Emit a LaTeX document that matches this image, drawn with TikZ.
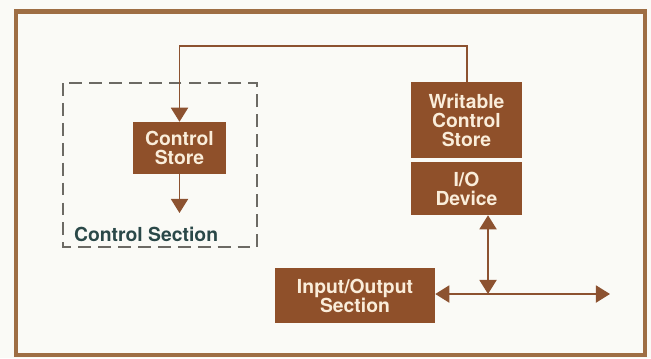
\documentclass[tikz,border=0pt]{standalone}
\usepackage{fontspec}
\setmainfont{TeX Gyre Heros}
\usetikzlibrary{arrows.meta}
\definecolor{boxbrown}{RGB}{143,80,42}
\definecolor{linebrown}{RGB}{140,82,48}
\definecolor{framebrown}{RGB}{158,110,68}
\definecolor{paper}{RGB}{250,250,246}
\definecolor{boxtext}{RGB}{250,237,218}
\definecolor{dashgray}{RGB}{108,106,100}
\definecolor{labelteal}{RGB}{42,72,72}
\begin{document}
\begin{tikzpicture}[x=0.03cm,y=-0.03cm,>={Triangle[length=12pt,width=14.5pt]},
	box/.style={fill=boxbrown,text=boxtext,font=\bfseries\fontsize{16.5}{16.2}\selectfont,align=center,inner sep=0pt},
	conn/.style={linebrown,line width=1.7pt}]
	\fill [paper] (0,0) rectangle (651,358);
	\useasboundingbox (0,0) rectangle (651,358);
	\draw [framebrown, line width=3.5pt] (16,11.5) rectangle (645,355);
	% control section
	\draw [dashgray, line width=1.4pt, dash pattern=on 11pt off 6pt] (63,83) rectangle (257,247);
	\node [anchor=west, text=labelteal, font=\bfseries\fontsize{16.5}{16.2}\selectfont] (cslabel) at (70,234) {Control Section};
	\node [box, minimum width=2.79cm, minimum height=1.56cm] (cstore) at (179.5,148) {Control\\Store};
	% writable store and device
	\node [box, minimum width=3.33cm, minimum height=2.28cm] (wcs) at (466.5,120) {Writable\\Control\\Store};
	\node [box, minimum width=3.33cm, minimum height=1.59cm] (iodev) at (466.5,188.5) {I/O\\Device};
	\node [box, minimum width=4.8cm, minimum height=1.65cm] (iosec) at (355,295.5) {Input/Output\\Section};
	% connectors
	\coordinate (looptop) at (300,46);
	\coordinate (csout) at (179.5,213);
	\coordinate (busjoin) at (488,294);
	\coordinate (busend) at (610,294);
	\draw [conn,->] (wcs.north) |- (looptop) -| (cstore.north);
	\draw [conn,->] (cstore.south) -- (csout);
	\draw [conn,<->] (iosec.east |- busjoin) -- (busend);
	\draw [conn,<->] (busjoin |- iodev.south) -- (busjoin);
\end{tikzpicture}
\end{document}
